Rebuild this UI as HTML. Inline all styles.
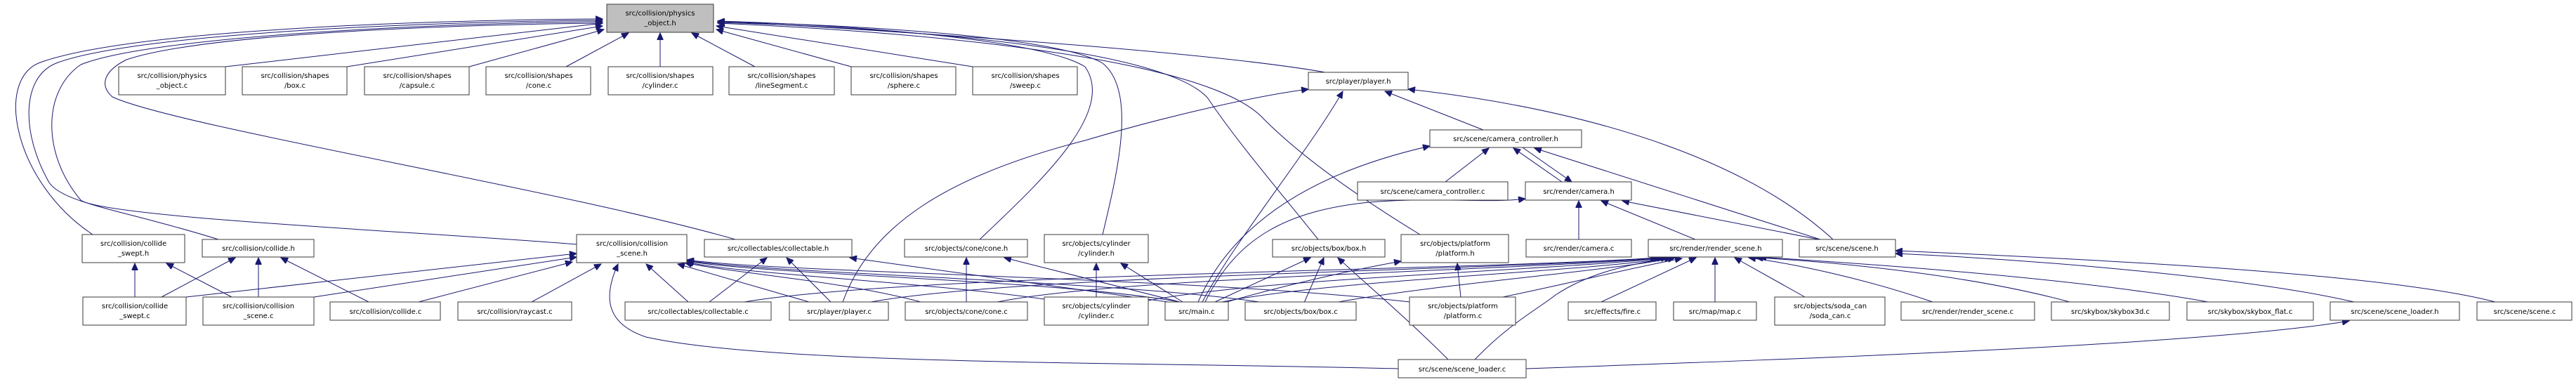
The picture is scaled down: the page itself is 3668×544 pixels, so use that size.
<!DOCTYPE html>
<html><head><meta charset="utf-8"><style>
html,body{margin:0;padding:0;background:#fff}
svg{display:block}
text{font-family:"DejaVu Sans","Liberation Sans",sans-serif;font-size:10px;fill:#000;text-anchor:middle}
.n{fill:#fff;stroke:#3a3a3a;stroke-width:1}
.e{fill:none;stroke:#191970;stroke-width:1}
</style></head><body>
<svg width="3668" height="544" viewBox="0 0 3668 544" xmlns="http://www.w3.org/2000/svg">
<defs><marker id="a" markerUnits="userSpaceOnUse" markerWidth="11" markerHeight="9" refX="10" refY="4.5" orient="auto"><path d="M0,0 L10,4.5 L0,9 z" fill="#191970" stroke="#191970"/></marker></defs>
<g class="e" marker-end="url(#a)">
<!-- to physics_object.h -->
<path d="M321,95 L858,33"/>
<path d="M494,95 L858,37"/>
<path d="M668,95 L860,42"/>
<path d="M806,95 L895,47"/>
<path d="M940,95 L940,47"/>
<path d="M1075,95 L985,47"/>
<path d="M1212,95 L1020,42"/>
<path d="M1385,95 L1020,37"/>
<path d="M132,334 C20,260 -10,110 60,88 C200,40 650,28 858,27"/>
<path d="M311,341 C180,300 90,290 70,260 C30,190 30,110 80,90 C200,45 650,30 858,29"/>
<path d="M821,348 C600,330 150,310 115,285 C60,220 60,130 115,92 C220,50 650,32 858,31"/>
<path d="M1047,341 C800,270 250,180 160,138 C140,120 150,100 180,85 C300,45 700,34 858,33"/>
<path d="M1887,103 C1700,70 1200,40 1022,30"/>
<path d="M1395,341 C1480,260 1590,160 1545,95 C1480,55 1200,35 1022,30"/>
<path d="M1570,334 C1590,250 1620,130 1570,90 C1500,50 1200,35 1022,31"/>
<path d="M1877,341 C1820,270 1760,200 1720,140 C1660,70 1300,40 1022,32"/>
<path d="M2022,334 C1950,290 1860,230 1800,170 C1720,80 1300,45 1022,33"/>
<!-- player.h -->
<path d="M1712,430 C1760,340 1860,220 1912,130"/>
<path d="M1200,430 C1240,320 1350,250 1545,200 C1680,160 1800,135 1863,127"/>
<path d="M2112,185 L1972,130"/>
<path d="M2610,341 C2500,240 2300,160 2005,127"/>
<!-- camera_controller.h -->
<path d="M1706,430 C1750,330 1850,250 2036,208"/>
<path d="M2058,259 L2120,211"/>
<path d="M2224,259 L2155,211"/>
<path d="M2592,341 L2185,211"/>
<path d="M2168,210 L2238,259"/>
<!-- camera.h -->
<path d="M1716,430 C1760,340 1830,300 1950,288 C2050,280 2120,290 2172,283"/>
<path d="M2248,341 L2248,286"/>
<path d="M2414,341 L2280,286"/>
<path d="M2590,341 L2310,286"/>
<!-- scene.h -->
<path d="M3352,430 C3200,395 2900,370 2699,361"/>
<path d="M3553,430 C3400,390 3000,370 2699,357"/>
<!-- scene_loader.h -->
<path d="M2173,525 C2600,510 3150,490 3345,457"/>
<!-- render_scene.h -->
<path d="M1060,430 C1300,390 2100,385 2360,367"/>
<path d="M1240,430 C1450,392 2100,386 2365,367"/>
<path d="M1420,430 C1600,394 2150,386 2370,367"/>
<path d="M1635,428 C1800,396 2200,386 2375,367"/>
<path d="M1740,430 C1900,398 2250,388 2380,367"/>
<path d="M1900,431 C2050,404 2300,385 2385,367"/>
<path d="M2140,423 C2250,400 2330,380 2395,368"/>
<path d="M2280,430 L2415,367"/>
<path d="M2442,430 L2442,367"/>
<path d="M2570,423 L2470,367"/>
<path d="M2752,430 C2650,395 2550,375 2490,367"/>
<path d="M2947,430 C2800,390 2600,372 2500,367"/>
<path d="M3144,430 C2950,395 2650,375 2505,366"/>
<path d="M2100,512 C2150,460 2190,440 2215,420 C2260,390 2320,375 2385,367"/>
<!-- collision_scene.h -->
<path d="M265,423 L821,361"/>
<path d="M447,423 L821,366"/>
<path d="M596,430 L815,373"/>
<path d="M757,430 L856,376"/>
<path d="M1991,525 C1600,515 1100,520 920,480 C860,460 860,420 880,376"/>
<path d="M980,430 L920,376"/>
<path d="M1152,430 L965,376"/>
<path d="M1311,430 C1200,400 1050,390 975,374"/>
<path d="M1487,426 C1300,400 1050,390 977,373"/>
<path d="M1680,430 C1500,398 1100,392 978,372"/>
<path d="M1800,431 C1600,400 1100,390 978,371"/>
<path d="M2007,430 C1700,395 1100,388 978,370"/>
<!-- collide_swept.h -->
<path d="M192,423 L192,375"/>
<path d="M330,423 L237,375"/>
<!-- collide.h -->
<path d="M230,423 L335,367"/>
<path d="M368,423 L368,367"/>
<path d="M525,430 L400,367"/>
<!-- collectable.h -->
<path d="M1010,430 L1092,367"/>
<path d="M1183,430 L1120,367"/>
<path d="M1663,430 L1210,367"/>
<!-- cone.h -->
<path d="M1376,430 L1376,367"/>
<path d="M1680,430 L1430,367"/>
<!-- cylinder.h -->
<path d="M1561,423 L1561,375"/>
<path d="M1684,430 L1596,375"/>
<!-- box.h -->
<path d="M1730,430 L1866,367"/>
<path d="M1857,431 L1885,367"/>
<path d="M2062,512 C2000,450 1940,400 1905,367"/>
<!-- platform.h -->
<path d="M2080,423 L2075,375"/>
<path d="M1740,432 C1850,400 1950,380 1995,372"/>
</g>
<g>
<rect x="864" y="6" width="152" height="40" style="fill:#bfbfbf;stroke:#3a3a3a"/>
<text x="940" y="22">src/collision/physics</text><text x="940" y="36">_object.h</text>
<rect class="n" x="169" y="95" width="152" height="40"/><text x="245" y="111">src/collision/physics</text><text x="245" y="125">_object.c</text>
<rect class="n" x="345" y="95" width="149" height="40"/><text x="420" y="111">src/collision/shapes</text><text x="420" y="125">/box.c</text>
<rect class="n" x="519" y="95" width="149" height="40"/><text x="594" y="111">src/collision/shapes</text><text x="594" y="125">/capsule.c</text>
<rect class="n" x="692" y="95" width="149" height="40"/><text x="767" y="111">src/collision/shapes</text><text x="767" y="125">/cone.c</text>
<rect class="n" x="866" y="95" width="149" height="40"/><text x="940" y="111">src/collision/shapes</text><text x="940" y="125">/cylinder.c</text>
<rect class="n" x="1038" y="95" width="150" height="40"/><text x="1113" y="111">src/collision/shapes</text><text x="1113" y="125">/lineSegment.c</text>
<rect class="n" x="1212" y="95" width="149" height="40"/><text x="1287" y="111">src/collision/shapes</text><text x="1287" y="125">/sphere.c</text>
<rect class="n" x="1385" y="95" width="149" height="40"/><text x="1460" y="111">src/collision/shapes</text><text x="1460" y="125">/sweep.c</text>
<rect class="n" x="1863" y="103" width="142" height="25"/><text x="1934" y="119">src/player/player.h</text>
<rect class="n" x="2036" y="185" width="216" height="25"/><text x="2144" y="201">src/scene/camera_controller.h</text>
<rect class="n" x="1933" y="259" width="214" height="26"/><text x="2040" y="276">src/scene/camera_controller.c</text>
<rect class="n" x="2172" y="259" width="151" height="26"/><text x="2248" y="276">src/render/camera.h</text>
<rect class="n" x="117" y="334" width="146" height="40"/><text x="190" y="350">src/collision/collide</text><text x="190" y="364">_swept.h</text>
<rect class="n" x="288" y="341" width="159" height="25"/><text x="368" y="357">src/collision/collide.h</text>
<rect class="n" x="821" y="334" width="157" height="40"/><text x="900" y="350">src/collision/collision</text><text x="900" y="364">_scene.h</text>
<rect class="n" x="1003" y="341" width="210" height="25"/><text x="1108" y="357">src/collectables/collectable.h</text>
<rect class="n" x="1288" y="341" width="175" height="25"/><text x="1376" y="357">src/objects/cone/cone.h</text>
<rect class="n" x="1487" y="334" width="148" height="40"/><text x="1561" y="350">src/objects/cylinder</text><text x="1561" y="364">/cylinder.h</text>
<rect class="n" x="1812" y="341" width="160" height="25"/><text x="1892" y="357">src/objects/box/box.h</text>
<rect class="n" x="1995" y="334" width="153" height="40"/><text x="2072" y="350">src/objects/platform</text><text x="2072" y="364">/platform.h</text>
<rect class="n" x="2173" y="341" width="150" height="25"/><text x="2248" y="357">src/render/camera.c</text>
<rect class="n" x="2347" y="341" width="191" height="25"/><text x="2443" y="357">src/render/render_scene.h</text>
<rect class="n" x="2562" y="341" width="137" height="25"/><text x="2630" y="357">src/scene/scene.h</text>
<rect class="n" x="118" y="423" width="147" height="40"/><text x="192" y="439">src/collision/collide</text><text x="192" y="453">_swept.c</text>
<rect class="n" x="289" y="423" width="158" height="40"/><text x="368" y="439">src/collision/collision</text><text x="368" y="453">_scene.c</text>
<rect class="n" x="470" y="430" width="157" height="26"/><text x="549" y="447">src/collision/collide.c</text>
<rect class="n" x="652" y="430" width="162" height="26"/><text x="733" y="447">src/collision/raycast.c</text>
<rect class="n" x="890" y="430" width="208" height="26"/><text x="994" y="447">src/collectables/collectable.c</text>
<rect class="n" x="1124" y="430" width="141" height="26"/><text x="1195" y="447">src/player/player.c</text>
<rect class="n" x="1289" y="430" width="174" height="26"/><text x="1376" y="447">src/objects/cone/cone.c</text>
<rect class="n" x="1487" y="423" width="148" height="40"/><text x="1561" y="439">src/objects/cylinder</text><text x="1561" y="453">/cylinder.c</text>
<rect class="n" x="1659" y="430" width="90" height="26"/><text x="1704" y="447">src/main.c</text>
<rect class="n" x="1773" y="430" width="158" height="26"/><text x="1852" y="447">src/objects/box/box.c</text>
<rect class="n" x="2007" y="423" width="151" height="40"/><text x="2083" y="439">src/objects/platform</text><text x="2083" y="453">/platform.c</text>
<rect class="n" x="2233" y="430" width="125" height="26"/><text x="2296" y="447">src/effects/fire.c</text>
<rect class="n" x="2383" y="430" width="118" height="26"/><text x="2442" y="447">src/map/map.c</text>
<rect class="n" x="2527" y="423" width="157" height="40"/><text x="2606" y="439">src/objects/soda_can</text><text x="2606" y="453">/soda_can.c</text>
<rect class="n" x="2707" y="430" width="190" height="26"/><text x="2802" y="447">src/render/render_scene.c</text>
<rect class="n" x="2921" y="430" width="168" height="26"/><text x="3005" y="447">src/skybox/skybox3d.c</text>
<rect class="n" x="3114" y="430" width="180" height="26"/><text x="3204" y="447">src/skybox/skybox_flat.c</text>
<rect class="n" x="3318" y="430" width="184" height="26"/><text x="3410" y="447">src/scene/scene_loader.h</text>
<rect class="n" x="3527" y="430" width="135" height="26"/><text x="3595" y="447">src/scene/scene.c</text>
<rect class="n" x="1991" y="512" width="182" height="26"/><text x="2082" y="529">src/scene/scene_loader.c</text>
</g>
</svg>
</body></html>
